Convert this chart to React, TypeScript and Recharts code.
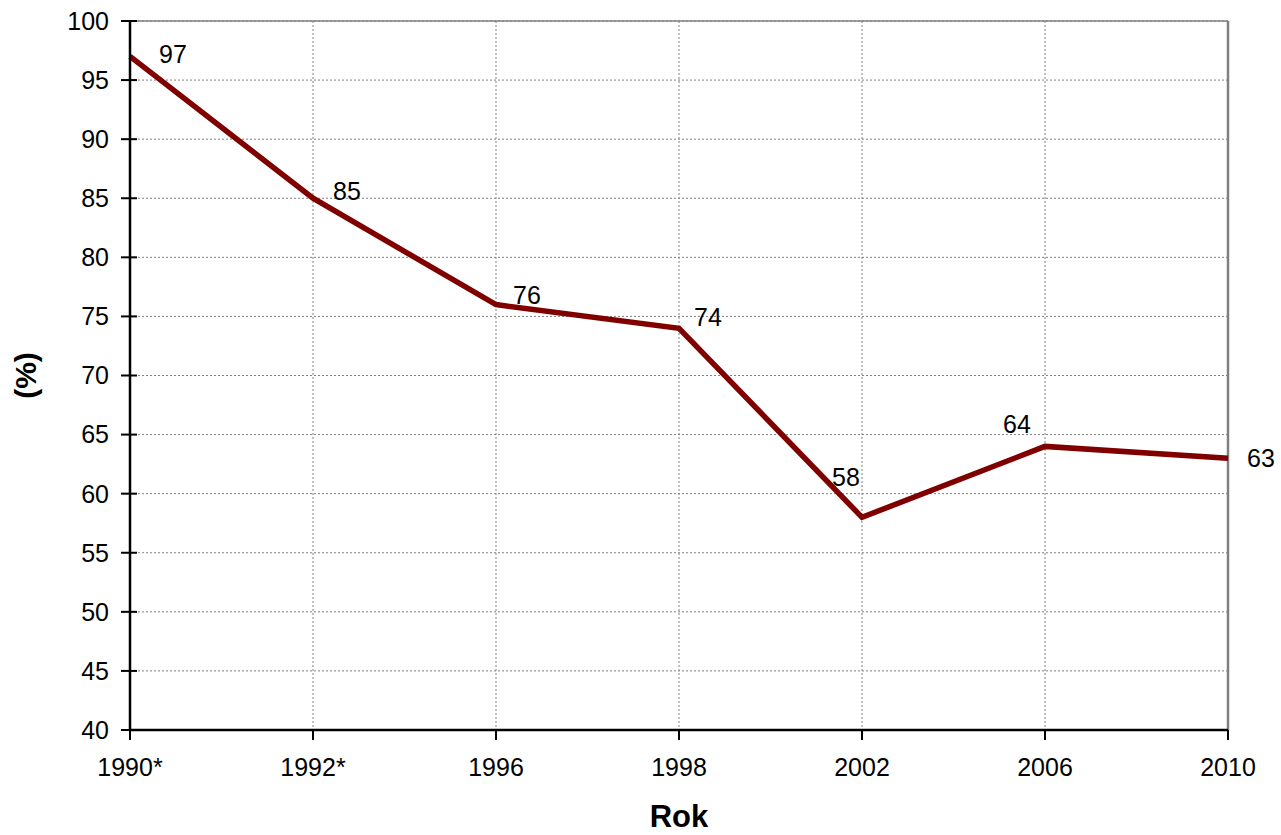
import { CartesianGrid, Line, LineChart, ReferenceLine, XAxis, YAxis } from "recharts";

const years = ["1990*", "1992*", "1996", "1998", "2002", "2006", "2010"];
const shares = [97, 85, 76, 74, 58, 64, 63];
const yTicks = [40, 45, 50, 55, 60, 65, 70, 75, 80, 85, 90, 95, 100];

const data = years.map((year, i) => ({ year, value: shares[i] }));

const FONT = "'Liberation Sans', Arial, sans-serif";

// where each value label sits relative to its point
const labelShift: [number, number][] = [
  [43, -2],
  [34, -7],
  [31, -10],
  [29, -11],
  [-16, -40],
  [-28, -22],
  [33, 0],
];

function ValueLabel(props: any) {
  const { x, y, value, index } = props;
  const [dx, dy] = labelShift[index] ?? [0, -20];
  return (
    <text
      x={x + dx}
      y={y + dy}
      textAnchor="middle"
      dominantBaseline="central"
      fontSize={25}
      fontFamily={FONT}
      fill="#000"
    >
      {value}
    </text>
  );
}

function YTick(props: any) {
  const { x, y, payload } = props;
  return (
    <g>
      <line x1={x - 9} x2={x + 7} y1={y} y2={y} stroke="#000" strokeWidth={2} />
      <text
        x={x - 21}
        y={y}
        dy="0.355em"
        textAnchor="end"
        fontSize={25}
        fontFamily={FONT}
        fill="#000"
      >
        {payload.value}
      </text>
    </g>
  );
}

export default function App() {
  return (
    <div style={{ position: "absolute", left: 0, top: 0, background: "#fff" }}>
      <LineChart
        width={1281}
        height={835}
        data={data}
        margin={{ top: 21, right: 53, left: 60, bottom: 45 }}
      >
        <CartesianGrid stroke="#808080" strokeDasharray="2 2" strokeWidth={1} />
        <ReferenceLine y={100} stroke="#808080" strokeWidth={1.5} />
        <ReferenceLine x="2010" stroke="#808080" strokeWidth={2.5} />
        <XAxis
          dataKey="year"
          type="category"
          interval={0}
          axisLine={{ stroke: "#000", strokeWidth: 2.5 }}
          tickLine={{ stroke: "#000", strokeWidth: 2 }}
          tickSize={10}
          tickMargin={18}
          height={60}
          tick={{ fontSize: 25, fontFamily: FONT, fill: "#000" }}
          label={{
            value: "Rok",
            position: "insideBottom",
            offset: -37,
            fontSize: 31,
            fontWeight: "bold",
            fontFamily: FONT,
            fill: "#000",
          }}
        />
        <YAxis
          domain={[40, 100]}
          ticks={yTicks}
          interval={0}
          width={70}
          tickSize={0}
          tickMargin={0}
          tickLine={false}
          axisLine={{ stroke: "#000", strokeWidth: 2.5 }}
          tick={<YTick />}
          label={{
            value: "(%)",
            angle: -90,
            position: "insideLeft",
            offset: -35,
            textAnchor: "middle",
            fontSize: 30,
            fontWeight: "bold",
            fontFamily: FONT,
            fill: "#000",
          }}
        />
        <Line
          type="linear"
          dataKey="value"
          stroke="#800000"
          strokeWidth={5.5}
          dot={false}
          activeDot={false}
          isAnimationActive={false}
          label={<ValueLabel />}
        />
      </LineChart>
    </div>
  );
}
